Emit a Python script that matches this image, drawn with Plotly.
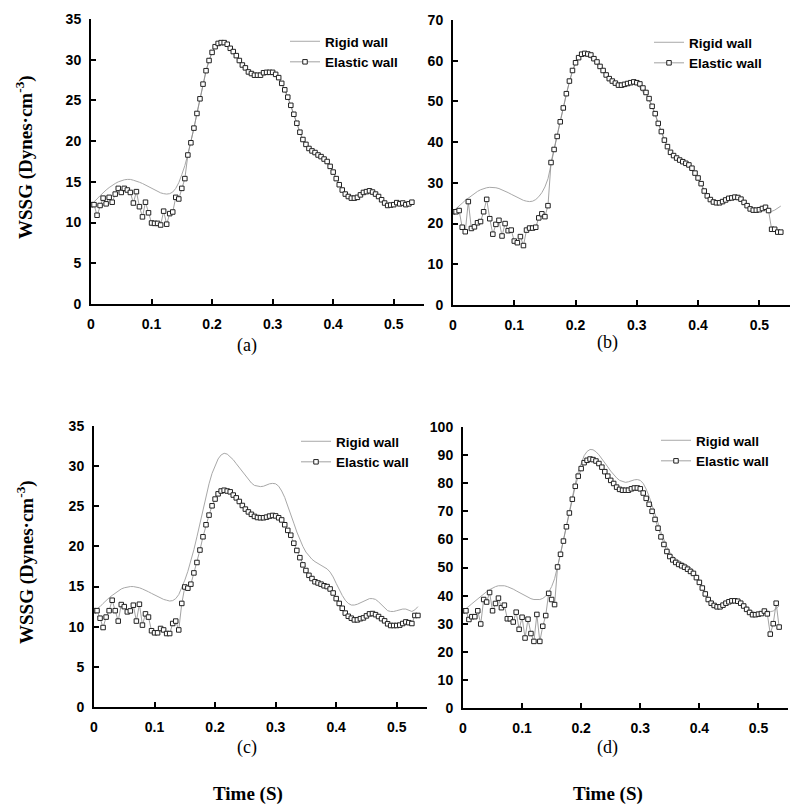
import plotly.graph_objects as go

T_STEP = 0.005

# ---------- Panel (a) ----------
elastic_a = [12.2, 12.2, 10.9, 12.1, 13.0, 12.3, 13.1, 12.5, 13.5, 14.2,
             13.7, 14.2, 14.0, 13.7, 12.4, 13.8, 11.95, 10.7, 12.5, 11.2,
             9.95, 9.9, 9.9, 9.7, 11.4, 9.8, 11.1, 11.3, 13.1, 12.9,
             14.2, 15.4, 18.3, 19.8, 21.6, 23.4, 25.2, 27.0, 28.65, 29.9,
             30.9, 31.6, 32.0, 32.1, 32.1, 31.9, 31.4, 31.0, 30.5, 29.9,
             29.35, 29.0, 28.5, 28.3, 28.1, 28.1, 28.1, 28.4, 28.45, 28.45,
             28.45, 28.2, 27.8, 27.1, 26.3, 25.4, 24.4, 23.3, 22.2, 21.1,
             20.2, 19.6, 19.1, 18.8, 18.6, 18.3, 18.1, 17.8, 17.5, 16.9,
             16.2, 15.4, 14.65, 14.0, 13.5, 13.2, 13.0, 13.0, 13.1, 13.4,
             13.7, 13.8, 13.9, 13.75, 13.5, 13.2, 12.8, 12.4, 12.1, 12.15,
             12.2, 12.45, 12.3, 12.4, 12.2, 12.3, 12.5]
rigid_a = [12.2, 12.5, 12.9, 13.3, 13.7, 14.0, 14.3, 14.6, 14.8, 15.0,
           15.15, 15.25, 15.3, 15.3, 15.2, 15.1, 14.95, 14.8, 14.6, 14.4,
           14.2, 14.0, 13.8, 13.65, 13.55, 13.5, 13.55, 13.75, 14.2, 14.9,
           15.9, 17.0, 18.4, 19.9, 21.6, 23.4, 25.2, 27.0, 28.6, 29.9,
           30.9, 31.6, 32.0, 32.1, 32.1, 31.9, 31.4, 31.0, 30.5, 29.9,
           29.35, 28.95, 28.5, 28.25, 28.1, 28.05, 28.1, 28.3, 28.4, 28.45,
           28.4, 28.15, 27.75, 27.1, 26.3, 25.4, 24.4, 23.3, 22.2, 21.1,
           20.2, 19.6, 19.1, 18.8, 18.55, 18.3, 18.05, 17.8, 17.45, 16.9,
           16.2, 15.4, 14.65, 14.0, 13.5, 13.2, 13.0, 13.0, 13.1, 13.4,
           13.65, 13.8, 13.85, 13.75, 13.5, 13.2, 12.8, 12.4, 12.15, 12.15,
           12.25, 12.35, 12.35, 12.3, 12.3, 12.4, 12.5]

# ---------- Panel (b) ----------
elastic_b = [22.9, 22.9, 23.2, 19.1, 18.0, 25.4, 18.8, 19.2, 20.2, 20.5,
             22.9, 25.95, 21.2, 17.4, 19.8, 20.8, 16.95, 20.0, 18.25, 18.4,
             15.7, 15.3, 16.8, 14.6, 18.4, 18.9, 18.9, 19.1, 21.4, 22.4,
             21.7, 24.4, 35.0, 38.2, 41.4, 45.0, 48.4, 51.9, 55.0, 57.6,
             59.5, 60.75, 61.6, 61.8, 61.65, 61.4, 60.5, 59.7, 58.6, 57.6,
             56.5, 55.6, 55.0, 54.5, 54.0, 54.0, 54.2, 54.4, 54.6, 54.8,
             54.6, 54.3, 53.3, 52.2, 50.7, 48.8, 47.0, 44.6, 42.6, 40.5,
             38.9, 37.5, 36.7, 36.1, 35.6, 35.2, 34.8, 34.4, 33.6, 32.4,
             31.2, 29.8, 28.0, 26.8, 25.9, 25.3, 25.1, 25.1, 25.4, 25.8,
             26.2, 26.3, 26.5, 26.4, 26.0, 25.2, 24.4, 23.6, 23.3, 23.3,
             23.4, 23.7, 24.0, 23.2, 18.6, 18.6, 17.9, 17.9]
rigid_b = [23.0, 23.6, 24.3, 25.0, 25.7, 26.3, 26.9, 27.4, 27.9, 28.3,
           28.6, 28.8, 28.9, 28.9, 28.8, 28.6, 28.3, 28.0, 27.6, 27.2,
           26.8, 26.4, 26.0, 25.7, 25.5, 25.4, 25.5, 25.9, 26.6, 27.6,
           29.0, 31.0, 34.5, 38.4, 41.6, 45.1, 48.5, 51.9, 54.9, 57.4,
           59.3, 60.5, 61.1, 61.2, 61.0, 60.6, 60.0, 59.2, 58.3, 57.3,
           56.3, 55.4, 54.6, 54.0, 53.6, 53.5, 53.6, 53.9, 54.2, 54.3,
           54.1, 53.4, 52.2, 51.9, 50.4, 48.6, 46.7, 44.5, 42.4, 40.4,
           38.8, 37.5, 36.6, 36.0, 35.5, 35.1, 34.7, 34.2, 33.4, 32.3,
           31.0, 29.6, 28.1, 26.9, 26.0, 25.4, 25.2, 25.2, 25.4, 25.8,
           26.2, 26.5, 26.6, 26.5, 26.1, 25.4, 24.6, 23.9, 23.4, 23.3,
           23.4, 23.7, 23.9, 23.2, 23.0, 23.3, 23.7, 24.3]

# ---------- Panel (c) ----------
elastic_c = [12.0, 12.0, 11.06, 9.9, 11.2, 12.0, 13.3, 12.0, 10.7, 12.76,
             12.5, 11.85, 11.97, 12.68, 10.7, 12.8, 10.2, 11.6, 11.2, 9.5,
             9.24, 9.24, 9.78, 9.6, 9.15, 9.15, 10.4, 10.7, 9.6, 12.9,
             14.95, 14.8, 15.3, 16.7, 18.0, 19.55, 21.2, 22.7, 23.9, 25.06,
             25.9, 26.55, 26.9, 27.0, 26.9, 26.8, 26.4, 26.05, 25.6, 25.1,
             24.65, 24.3, 24.0, 23.74, 23.6, 23.57, 23.57, 23.65, 23.78, 23.86,
             23.8, 23.57, 23.3, 22.7, 22.0, 21.4, 20.4, 19.5, 18.6, 17.7,
             17.0, 16.4, 16.0, 15.6, 15.45, 15.3, 15.1, 15.0, 14.7, 14.2,
             13.5, 12.9, 12.3, 11.7, 11.3, 11.06, 10.85, 10.85, 11.0, 11.1,
             11.35, 11.6, 11.64, 11.5, 11.27, 11.0, 10.73, 10.36, 10.15, 10.15,
             10.15, 10.2, 10.4, 10.6, 10.5, 10.4, 11.4, 11.4]
rigid_c = [12.0, 12.2, 12.5, 12.9, 13.3, 13.6, 13.9, 14.2, 14.5, 14.7,
           14.85, 14.95, 15.0, 15.0, 14.95, 14.85, 14.7, 14.55, 14.35, 14.15,
           13.95, 13.75, 13.55, 13.4, 13.3, 13.2, 13.25, 13.5, 14.0, 14.8,
           15.8, 16.9, 18.1, 19.6, 21.2, 22.9, 24.6, 26.3, 27.8, 29.1,
           30.1, 30.9, 31.4, 31.6, 31.5, 31.2, 30.8, 30.3, 29.8, 29.3,
           28.8, 28.3, 27.9, 27.6, 27.5, 27.45, 27.5, 27.7, 27.8, 27.85,
           27.8, 27.5, 26.9, 26.1, 25.1, 24.0, 22.9, 21.8, 20.8, 20.0,
           19.3, 18.8, 18.4, 18.1, 17.9, 17.7, 17.5, 17.2, 16.8, 16.2,
           15.4, 14.6, 13.9, 13.3, 12.9, 12.7, 12.7, 12.8, 13.0, 13.2,
           13.4, 13.5, 13.5, 13.4, 13.1, 12.7, 12.3, 12.0, 11.9, 11.9,
           12.0, 12.1, 12.2, 12.2, 12.0, 11.9, 12.1, 12.5]

# ---------- Panel (d) ----------
elastic_d = [34.6, 34.6, 31.5, 32.5, 32.5, 34.6, 29.9, 38.6, 37.7, 41.1,
             34.6, 37.2, 39.1, 35.7, 36.6, 31.75, 31.75, 30.6, 34.1, 28.0,
             32.3, 24.9, 31.6, 26.5, 23.7, 33.3, 23.7, 29.1, 32.9, 40.8,
             38.6, 36.8, 50.2, 54.7, 59.4, 64.5, 69.4, 74.3, 78.9, 82.5,
             85.2, 87.3, 88.15, 88.6, 88.4, 87.9, 87.0, 85.7, 84.1, 82.5,
             81.0, 79.9, 78.6, 77.8, 77.5, 77.5, 77.5, 78.0, 78.3, 78.3,
             78.0, 76.5, 74.6, 72.5, 70.0, 67.1, 64.0, 60.9, 58.2, 55.7,
             53.9, 52.7, 51.8, 51.1, 50.6, 50.1, 49.4, 48.6, 47.9, 46.4,
             44.7, 42.7, 40.6, 38.6, 37.3, 36.5, 36.0, 36.0, 36.6, 37.3,
             37.8, 38.15, 38.15, 38.0, 37.3, 36.3, 35.1, 34.0, 33.2, 33.2,
             33.4, 33.6, 34.5, 33.5, 26.3, 30.0, 37.3, 28.8]
rigid_d = [34.6, 35.3, 36.2, 37.1, 38.0, 38.9, 39.8, 40.6, 41.4, 42.1,
           42.7, 43.2, 43.5, 43.6, 43.5, 43.2, 42.8, 42.3, 41.7, 41.1,
           40.5, 39.9, 39.4, 38.9, 38.6, 38.5, 38.6, 39.0, 39.8, 41.2,
           43.2, 46.0, 50.0, 54.8, 59.8, 65.0, 70.2, 75.2, 79.9, 84.0,
           87.3, 89.8, 91.3, 92.0, 91.9, 91.2, 90.1, 88.8, 87.3, 85.8,
           84.3, 83.0, 81.9, 81.0, 80.5, 80.3, 80.5, 80.9, 81.2, 81.3,
           81.0, 79.9, 77.9, 75.3, 72.4, 69.2, 65.9, 62.7, 59.8, 57.3,
           55.4, 54.0, 53.1, 52.4, 51.9, 51.4, 50.8, 50.0, 48.9, 47.4,
           45.5, 43.4, 41.3, 39.4, 38.0, 37.1, 36.6, 36.6, 37.0, 37.6,
           38.2, 38.6, 38.8, 38.7, 38.2, 37.3, 36.2, 35.1, 34.3, 33.9,
           33.9, 34.1, 34.5, 34.6, 34.3, 34.5, 35.4, 36.4]

Y_TICKS = [[0, 5, 10, 15, 20, 25, 30, 35],
           [0, 10, 20, 30, 40, 50, 60, 70],
           [0, 5, 10, 15, 20, 25, 30, 35],
           [0, 10, 20, 30, 40, 50, 60, 70, 80, 90, 100]]
X_TICKS = [0, 0.1, 0.2, 0.3, 0.4, 0.5]
X_TICK_LABELS = ["0", "0.1", "0.2", "0.3", "0.4", "0.5"]
PANEL_LABELS = ["(a)", "(b)", "(c)", "(d)"]
SERIES_NAMES = ["Rigid wall", "Elastic wall"]
Y_TITLE = "WSSG (Dynes·cm<sup>-3</sup>)"
X_TITLE = "Time (S)"

W, H = 800, 811
OFF = 8  # page body margin of the html page
# pixel boxes (screen) of the four plot areas: (left, right, top, bottom)
BOXES = [(91, 424, 19, 304), (453, 790, 20, 305),
         (94, 427, 426, 707), (463, 788, 427, 708)]
LEGEND_POS = [(325, 43), (689, 44), (336, 443), (696, 442)]
LABEL_POS = [(247, 345), (607, 343), (247, 747), (607, 747)]

def fx(px):
    return (px - OFF) / W

def fy(py):
    return 1 - (py - OFF) / H

def times(n):
    return [round(i * T_STEP, 3) for i in range(n)]

SANS = "Liberation Sans, Arial, sans-serif"
SERIF = "Liberation Serif, Times New Roman, serif"
TICKFONT = dict(family=SANS, size=14, color="black")

fig = go.Figure()
data = [(rigid_a, elastic_a), (rigid_b, elastic_b), (rigid_c, elastic_c), (rigid_d, elastic_d)]
layout = {}
for i, (rig, ela) in enumerate(data):
    k = "" if i == 0 else str(i + 1)
    leg = "legend" + k
    fig.add_trace(go.Scatter(x=times(len(rig)), y=rig, mode="lines", name="<b>" + SERIES_NAMES[0] + "</b>",
                             line=dict(color="#a8a8a8", width=1), xaxis="x" + k, yaxis="y" + k,
                             legend=leg, legendgroup=f"r{i}"))
    fig.add_trace(go.Scatter(x=times(len(ela)), y=ela, mode="lines+markers", name="<b>" + SERIES_NAMES[1] + "</b>",
                             line=dict(color="#8a8a8a", width=0.8),
                             marker=dict(symbol="square", size=4.5, color="white",
                                         line=dict(color="#222222", width=1)),
                             xaxis="x" + k, yaxis="y" + k, legend=leg, legendgroup=f"e{i}"))
    l, r, t, b = BOXES[i]
    layout["xaxis" + k] = dict(domain=[fx(l), fx(r)], range=[0, 0.55], anchor="y" + k,
                               tickmode="array", tickvals=X_TICKS,
                               ticktext=["<b>" + s + "</b>" for s in X_TICK_LABELS],
                               showline=True, linecolor="black", linewidth=2,
                               ticks="inside", ticklen=5, tickwidth=2, tickcolor="black",
                               showgrid=False, zeroline=False, automargin=False,
                               ticklabelstandoff=6, tickfont=TICKFONT)
    layout["yaxis" + k] = dict(domain=[fy(b), fy(t)], range=[0, Y_TICKS[i][-1]], anchor="x" + k,
                               tickmode="array", tickvals=Y_TICKS[i],
                               ticktext=["<b>" + str(v) + "</b>" for v in Y_TICKS[i]],
                               showline=True, linecolor="black", linewidth=2,
                               ticks="inside", ticklen=5, tickwidth=2, tickcolor="black",
                               showgrid=False, zeroline=False, automargin=False,
                               ticklabelstandoff=5, tickfont=TICKFONT)
    lx, ly = LEGEND_POS[i]
    layout[leg] = dict(x=fx(lx - 40), y=fy(ly - 17), xanchor="left", yanchor="top",
                       bgcolor="rgba(0,0,0,0)", borderwidth=0, tracegroupgap=0,
                       traceorder="grouped",
                       font=dict(family=SANS, size=13.5, color="black"))

annotations = []
for i, lab in enumerate(PANEL_LABELS):
    px, py = LABEL_POS[i]
    annotations.append(dict(text=lab, x=fx(px), y=fy(py), xref="paper", yref="paper",
                            showarrow=False, xanchor="center", yanchor="middle",
                            font=dict(family=SERIF, size=18, color="black")))
for py in (157, 562):
    annotations.append(dict(text="<b>" + Y_TITLE + "</b>", x=fx(25), y=fy(py),
                            xref="paper", yref="paper", showarrow=False, textangle=-90,
                            xanchor="center", yanchor="middle",
                            font=dict(family=SERIF, size=19, color="black")))
for px in (248, 608):
    annotations.append(dict(text="<b>" + X_TITLE + "</b>", x=fx(px), y=fy(794),
                            xref="paper", yref="paper", showarrow=False,
                            xanchor="center", yanchor="middle",
                            font=dict(family=SERIF, size=19, color="black")))

fig.update_layout(template="none", width=W, height=H,
                  margin=dict(l=0, r=0, t=0, b=0, pad=0, autoexpand=False),
                  paper_bgcolor="white", plot_bgcolor="white", showlegend=True,
                  annotations=annotations, **layout)
fig.write_html("out.html")
